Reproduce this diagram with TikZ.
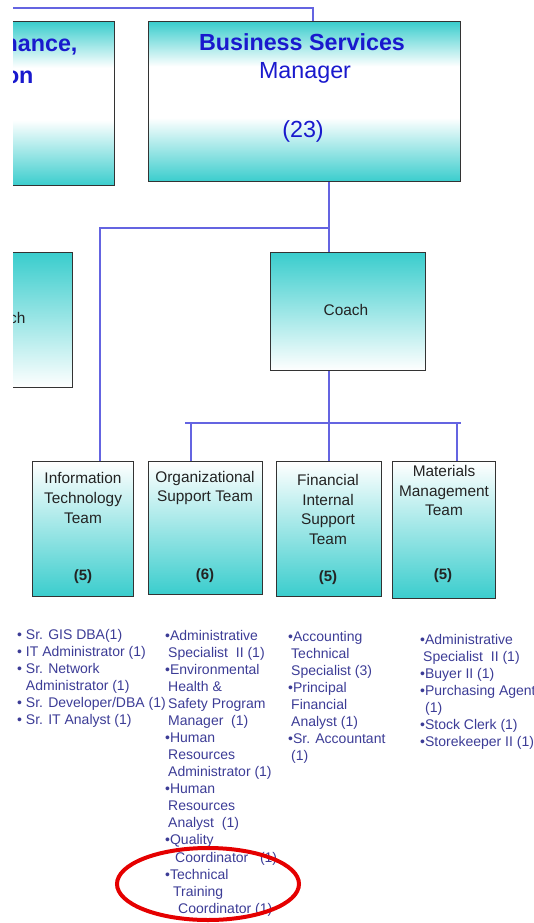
\documentclass[tikz,border=0pt]{standalone}
\usepackage{fontspec}
\setmainfont{Liberation Sans}
\usepackage{tikz}

\definecolor{tealc}{RGB}{58,205,205}
\definecolor{linec}{RGB}{100,100,225}
\definecolor{bluet}{RGB}{25,25,205}
\definecolor{listc}{RGB}{60,60,150}
\definecolor{boxtext}{RGB}{35,35,35}
\pgfdeclareverticalshading{tealband}{100bp}{color(0bp)=(tealc); color(25bp)=(tealc); color(45bp)=(white); color(61bp)=(white); color(75bp)=(tealc); color(100bp)=(tealc)}

\begin{document}
\begin{tikzpicture}[x=1pt, y=-1pt,
    box/.style={draw=black!80, line width=1.3pt, inner sep=0pt, anchor=north west},
    link/.style={draw=linec, line width=1.2pt},
    teamtxt/.style={font=\fontsize{15.4}{19.7}\selectfont, text=boxtext, align=center},
    headtxt/.style={font=\fontsize{23.3}{27}\selectfont, text=bluet},
    list/.style={font=\fontsize{14}{17.05}\selectfont, text=listc, align=left, anchor=north west, inner sep=0pt}]
  \useasboundingbox (0,0) rectangle (533,923);
  \clip (13,0) rectangle (533,923);

  % top row
  \node[box, shading=tealband, minimum width=150pt, minimum height=164pt] (fa) at (-36,21) {};
  \node[headtxt, font=\fontsize{23.3}{27}\selectfont\bfseries, anchor=east] (fa-t1) at (81,45) {Finance,};
  \node[headtxt, font=\fontsize{23.3}{27}\selectfont\bfseries, anchor=east] (fa-t2) at (37,75) {Administration};
  \node[box, shading=tealband, minimum width=312pt, minimum height=160pt] (bs) at (148,21) {};
  \node[headtxt, font=\fontsize{23.3}{27}\selectfont\bfseries] (bs-t1) at (302,42) {Business Services};
  \node[headtxt] (bs-t2) at (305,73) {Manager};
  \node[headtxt] (bs-t3) at (303,131) {(23)};

  % coaches
  \node[box, top color=tealc, bottom color=white, minimum width=110pt, minimum height=135pt] (lc) at (-38,252) {};
  \node[teamtxt, anchor=east] (lc-t) at (29,318) {Coach};
  \node[box, top color=tealc, bottom color=white, minimum width=155pt, minimum height=118pt] (coach) at (270,252) {};
  \node[teamtxt] (coach-t) at (346,310) {Coach};

  % teams
  \node[box, top color=white, bottom color=tealc, minimum width=101pt, minimum height=135pt] (it) at (32,461) {};
  \node[box, top color=white, bottom color=tealc, minimum width=114pt, minimum height=133pt] (org) at (148,461) {};
  \node[box, top color=white, bottom color=tealc, minimum width=105pt, minimum height=135pt] (fts) at (276,461) {};
  \node[box, top color=white, bottom color=tealc, minimum width=103pt, minimum height=137pt] (mat) at (392,461) {};
  \node[teamtxt] (it-t) at (83,498) {Information\\Technology\\Team};
  \node[teamtxt] (org-t) at (205,488) {Organizational\\Support Team};
  \node[teamtxt] (fts-t) at (328,509.5) {Financial\\Internal\\Support\\Team};
  \node[teamtxt] (mat-t) at (444,490.5) {Materials\\Management\\Team};
  \node[teamtxt, font=\fontsize{15}{19.7}\selectfont\bfseries] (it-n) at (83,577) {(5)};
  \node[teamtxt, font=\fontsize{15}{19.7}\selectfont\bfseries] (org-n) at (205,576) {(6)};
  \node[teamtxt, font=\fontsize{15}{19.7}\selectfont\bfseries] (fts-n) at (328,578) {(5)};
  \node[teamtxt, font=\fontsize{15}{19.7}\selectfont\bfseries] (mat-n) at (443,576) {(5)};

  % connectors
  \coordinate (topL) at (13,8);
  \coordinate (topR) at (313,8);
  \draw[link] (topL) -- (topR) -- (topR |- bs.north);
  \coordinate (j0) at (100,228);
  \coordinate (j1) at (329,228);
  \draw[link] (bs.south -| j1) -- (coach.north -| j1);
  \draw[link] (j1) -- (j0) -- (j0 |- it.north);
  \coordinate (j2) at (329,423);
  \draw[link] (coach.south -| j2) -- (fts.north -| j2);
  \coordinate (hL) at (185,423);
  \coordinate (hR) at (461,423);
  \draw[link] (hL) -- (hR);
  \coordinate (b1) at (191,423);
  \coordinate (b2) at (457,423);
  \draw[link] (b1) -- (b1 |- org.north);
  \draw[link] (b2) -- (b2 |- mat.north);

  % position lists
  \node[list] (it-l) at (17,629) {• Sr. GIS DBA(1)\\• IT Administrator (1)\\• Sr. Network\\\phantom{• }Administrator (1)\\• Sr. Developer/DBA (1)\\• Sr. IT Analyst (1)};
  \node[list] (org-l) at (165,630) {•Administrative\\\hspace*{3pt}Specialist\ \ II (1)\\•Environmental\\\hspace*{3pt}Health \&\\\hspace*{3pt}Safety Program\\\hspace*{3pt}Manager\ \ (1)\\•Human\\\hspace*{3pt}Resources\\\hspace*{3pt}Administrator (1)\\•Human\\\hspace*{3pt}Resources\\\hspace*{3pt}Analyst\ \ (1)\\•Quality\\\hspace*{10pt}Coordinator\ \ \ (1)\\•Technical\\\hspace*{8pt}Training\\\hspace*{13pt}Coordinator (1)};
  \node[list] (fts-l) at (288,631) {•Accounting\\\hspace*{3pt}Technical\\\hspace*{3pt}Specialist (3)\\•Principal\\\hspace*{3pt}Financial\\\hspace*{3pt}Analyst (1)\\•Sr. Accountant\\\hspace*{3pt}(1)};
  \node[list] (mat-l) at (420,634) {•Administrative\\\hspace*{3pt}Specialist\ \ II (1)\\•Buyer II (1)\\•Purchasing Agent\\\hspace*{5pt}(1)\\•Stock Clerk (1)\\•Storekeeper II (1)};

  \draw[red!90!black, line width=4pt] (208,884) ellipse [x radius=91, y radius=36];
\end{tikzpicture}
\end{document}
